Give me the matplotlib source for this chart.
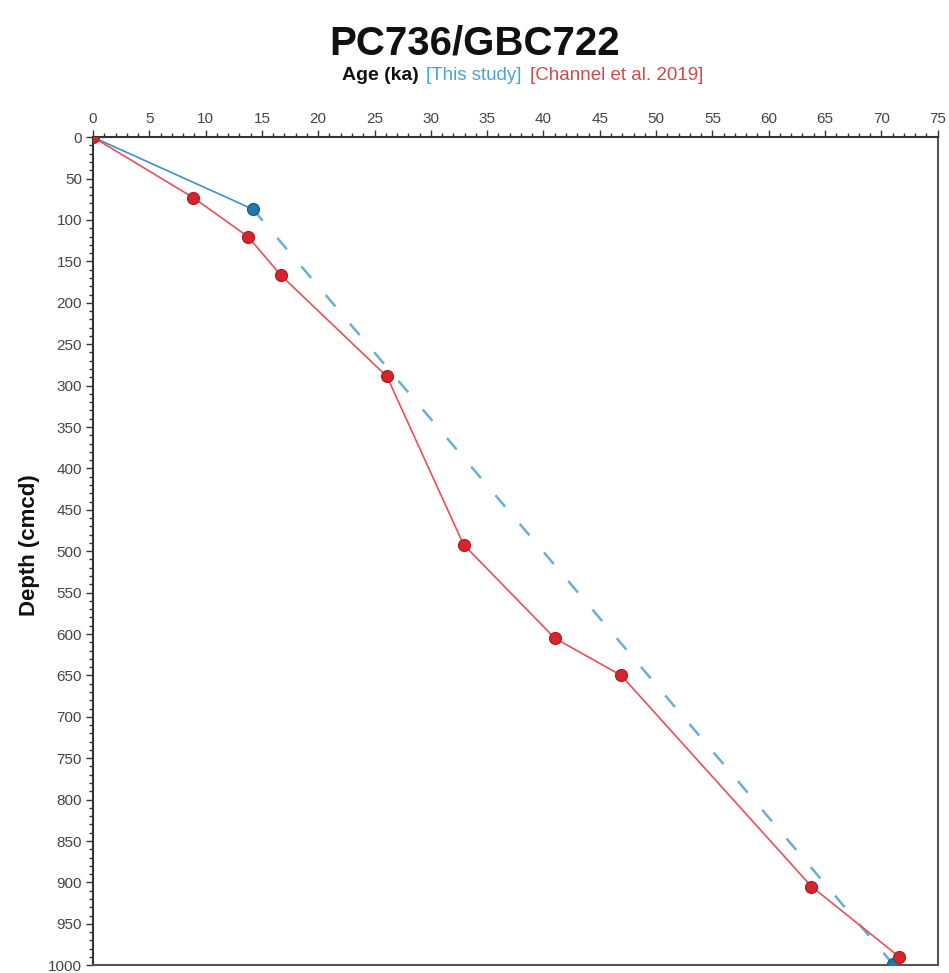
import matplotlib
matplotlib.use("Agg")
import matplotlib.pyplot as plt
from matplotlib.ticker import MultipleLocator

plt.rcParams['font.family'] = ['Liberation Sans', 'DejaVu Sans']

# Channel et al. 2019 tie points
channel_age = [0, 8.9, 13.75, 16.7, 26.1, 32.9, 41.0, 46.9, 63.8, 71.6]
channel_depth = [0, 73, 120, 167, 289, 492, 605, 650, 905, 990]

# this study
study_age = [0, 14.2]
study_depth = [0, 87]
study_ext_age = [14.2, 71.0]
study_ext_depth = [87, 998]

red = "#d7262b"
blue = "#1f78b4"

fig = plt.figure(figsize=(9.49, 9.73), dpi=100)
ax = fig.add_axes([0.098, 0.008, 0.890, 0.851])

ax.plot(study_ext_age, study_ext_depth, color="#6aaed6", lw=1.8,
        dashes=(6, 9), zorder=2)
ax.plot(study_age, study_depth, color="#3f8fc8", lw=1.2, zorder=3)
ax.plot(channel_age, channel_depth, color="#e8505a", lw=1.2, zorder=3)
ax.plot(channel_age, channel_depth, 'o', color=red, mec="#b01e24",
        ms=8.5, zorder=5, ls='none')
ax.plot(study_ext_age[1:], study_ext_depth[1:], 'o', color=blue,
        mec="#1a5f8e", ms=8.5, zorder=4, ls='none')
ax.plot(study_age[1:], study_depth[1:], 'o', color=blue,
        mec="#1a5f8e", ms=8.5, zorder=4, ls='none')

ax.set_xlim(0, 75)
ax.set_ylim(1000, 0)
ax.xaxis.tick_top()
ax.xaxis.set_major_locator(MultipleLocator(5))
ax.xaxis.set_minor_locator(MultipleLocator(1))
ax.yaxis.set_major_locator(MultipleLocator(50))
ax.yaxis.set_minor_locator(MultipleLocator(10))
ax.tick_params(which='major', length=5, width=1, color="#333333",
               labelsize=11, labelcolor="#444444", pad=3)
ax.tick_params(which='minor', length=3, width=1, color="#333333")
for s in ax.spines.values():
    s.set_color("#555555")
    s.set_linewidth(1.5)
ax.spines['top'].set_color("#333333")
ax.spines['left'].set_color("#333333")

fig.text(0.031, 0.44, "Depth (cmcd)", rotation=90, ha='center', va='center',
         fontsize=16, fontweight='bold', color="#111111")

fig.text(0.5, 0.955, "PC736/GBC722", ha='center', va='center',
         fontsize=29, fontweight='bold', color="#111111")
fig.text(0.441, 0.922, "Age (ka)", ha='right', va='center',
         fontsize=14, fontweight='bold', color="#111111")
fig.text(0.449, 0.922, "[This study]", ha='left', va='center',
         fontsize=13.5, color="#4aa3d8")
fig.text(0.558, 0.922, "[Channel et al. 2019]", ha='left', va='center',
         fontsize=13.5, color="#d0494f")

fig.savefig("out.png", dpi=100)
